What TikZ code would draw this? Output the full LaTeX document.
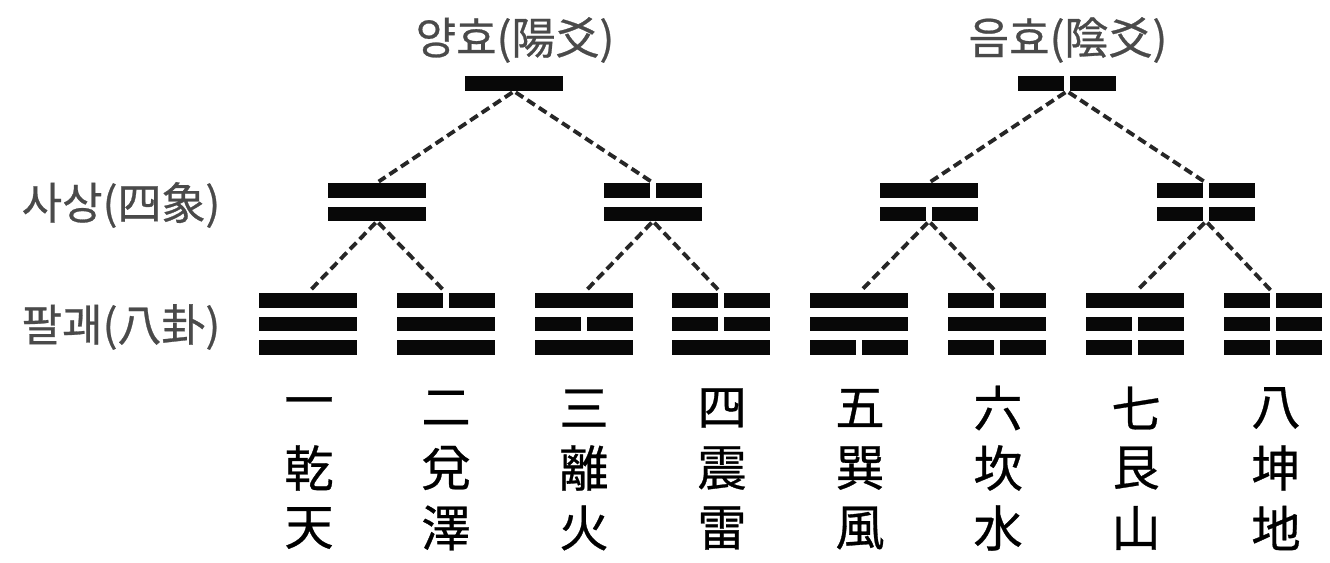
\documentclass[tikz,border=0pt]{standalone}
\usepackage{fontspec}
\newfontfamily\kr{Noto Sans CJK KR}
\newfontfamily\krl{Noto Sans CJK KR}[FakeBold=0.6]
\definecolor{barc}{HTML}{080808}
\definecolor{lblc}{HTML}{4A4A4A}
\definecolor{dashc}{HTML}{262626}
\newcommand\gwabar[3]{% center x, top y, s or b
  \if#3s\fill[barc] (#1-49,#2) rectangle (#1+49,#2+14.5);
  \else\fill[barc] (#1-49,#2) rectangle (#1-3,#2+14.5);
       \fill[barc] (#1+3,#2) rectangle (#1+49,#2+14.5);\fi}
\tikzset{
  grp/.style={inner sep=0pt, minimum width=73.5pt},
  link/.style={draw=dashc, line width=2.9pt, dash pattern=on 6.8pt off 3.6pt, shorten <=1.5pt, shorten >=1.5pt},
  lbl/.style={font=\krl\fontsize{33}{35}\selectfont, text=lblc, inner sep=0pt},
  han/.style={font=\krl\fontsize{37}{40}\selectfont, text=black, inner sep=0pt},
}
\begin{document}
\begin{tikzpicture}[x=0.75pt,y=-0.75pt]
\useasboundingbox (0,0) rectangle (1330,563);
\fill[white] (0,0) rectangle (1330,563);
% labels
\node[lbl] (Lyang) at (515,40) {양효(陽爻)};
\node[lbl] (Lyin) at (1068,40) {음효(陰爻)};
\node[lbl] (Lsa) at (121,205) {사상(四象)};
\node[lbl] (Lpal) at (121,327) {팔괘(八卦)};
% level 1
\gwabar{514}{76.5}{s}
\gwabar{1067}{76.5}{b}
\node[grp, minimum height=10.9pt] (yang) at (514,83.75) {};
\node[grp, minimum height=10.9pt] (yin) at (1067,83.75) {};
% level 2
\foreach \x/\a/\b [count=\i] in {377/s/s, 653/b/s, 929/s/b, 1206/b/b}{
  \gwabar{\x}{183}{\a}
  \gwabar{\x}{206.5}{\b}
  \node[grp, minimum height=28.5pt] (s\i) at (\x,202) {};
}
% level 3
\foreach \x/\a/\b/\c [count=\i] in {308/s/s/s, 446/b/s/s, 584/s/b/s, 721/b/b/s, 859/s/s/b, 997/b/s/b, 1135/s/b/b, 1273/b/b/b}{
  \gwabar{\x}{293}{\a}
  \gwabar{\x}{316.5}{\b}
  \gwabar{\x}{340}{\c}
  \node[grp, minimum height=46.5pt] (p\i) at (\x,324) {};
}
% connectors
\draw[link] (yang.south) -- (s1.north);
\draw[link] (yang.south) -- (s2.north);
\draw[link] (yin.south) -- (s3.north);
\draw[link] (yin.south) -- (s4.north);
\draw[link] (s1.south) -- (p1.north);
\draw[link] (s1.south) -- (p2.north);
\draw[link] (s2.south) -- (p3.north);
\draw[link] (s2.south) -- (p4.north);
\draw[link] (s3.south) -- (p5.north);
\draw[link] (s3.south) -- (p6.north);
\draw[link] (s4.south) -- (p7.north);
\draw[link] (s4.south) -- (p8.north);
% characters
\foreach \x/\n/\g/\e [count=\i] in {309/一/乾/天, 446/二/兌/澤, 584/三/離/火, 722/四/震/雷, 860/五/巽/風, 998/六/坎/水, 1136/七/艮/山, 1276/八/坤/地}{
  \node[han] (num\i) at (\x,408) {\n};
  \node[han] (gua\i) at (\x,468) {\g};
  \node[han] (sym\i) at (\x,528) {\e};
}
\end{tikzpicture}
\end{document}
